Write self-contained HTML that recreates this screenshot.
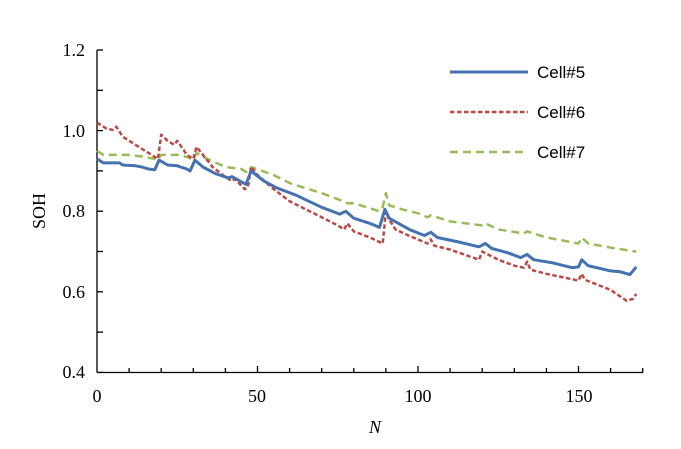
<!DOCTYPE html>
<html><head><meta charset="utf-8"><style>
body{margin:0;background:#fff}
svg{display:block}
text{font-family:"Liberation Serif",serif;font-size:18px;fill:#000}
.lg{font-family:"Liberation Sans",sans-serif;font-size:17px}
</style></head><body>
<svg id="s" width="681" height="449" xmlns="http://www.w3.org/2000/svg">
<g id="ax" stroke="#000" stroke-width="1.3"></g>
<text x="85" y="56" text-anchor="end">1.2</text>
<text x="85" y="137" text-anchor="end">1.0</text>
<text x="85" y="217" text-anchor="end">0.8</text>
<text x="85" y="298" text-anchor="end">0.6</text>
<text x="85" y="378" text-anchor="end">0.4</text>
<text x="97" y="402" text-anchor="middle">0</text>
<text x="257" y="402" text-anchor="middle">50</text>
<text x="418" y="402" text-anchor="middle">100</text>
<text x="579" y="402" text-anchor="middle">150</text>
<text x="375" y="433" text-anchor="middle" font-style="italic">N</text>
<text transform="translate(45,211) rotate(-90)" text-anchor="middle">SOH</text>
<g id="series" fill="none" stroke-linejoin="round"></g>
<line x1="450" y1="72" x2="528" y2="72" stroke="#4472b0" stroke-width="3"/>
<line x1="450" y1="112" x2="528" y2="112" stroke="#b94a48" stroke-width="2.5" stroke-dasharray="4.5,2.5"/>
<line x1="450" y1="152" x2="528" y2="152" stroke="#9bbb59" stroke-width="2.5" stroke-dasharray="8,5"/>
<text class="lg" x="537" y="78">Cell#5</text>
<text class="lg" x="537" y="118">Cell#6</text>
<text class="lg" x="537" y="158">Cell#7</text>
</svg>
<script>
var X=n=>97+3.21*n, Y=v=>130.7+(1-v)*403;
var ax=document.getElementById('ax'),h='';
h+='<line x1="97" y1="50" x2="97" y2="372.5"/><line x1="97" y1="372.5" x2="643" y2="372.5"/>';
for(var i=0;i<=8;i++){var y=50+i*40.3;h+='<line x1="97" y1="'+y+'" x2="103" y2="'+y+'"/>';}
for(var i=1;i<=17;i++){var x=X(i*10);h+='<line x1="'+x+'" y1="372.5" x2="'+x+'" y2="'+(i%5==0?366:368)+'"/>';}
ax.innerHTML=h;
var B=[[0,.93],[2,.92],[7,.92],[8,.915],[12,.913],[14,.91],[16,.905],[18,.903],[19.3,.927],[22,.915],[25,.913],[26,.91],[28,.905],[29,.9],[30.5,.927],[33,.91],[37,.893],[41,.883],[42,.886],[46.4,.867],[48,.9],[52,.875],[56,.858],[62,.84],[70,.81],[75.6,.793],[77.5,.8],[80,.783],[85,.77],[88,.76],[89.7,.805],[91,.783],[97.5,.754],[102,.74],[104,.748],[106,.735],[112,.725],[119,.712],[121,.72],[123,.708],[128,.697],[132,.685],[134,.693],[136,.68],[142,.672],[148,.66],[150,.662],[151,.68],[153,.665],[160,.652],[163,.65],[166,.643],[168,.662]];
var R=[[0,1.02],[3,1.005],[5,1.002],[6,1.01],[8,.985],[12,.965],[17,.94],[19,.93],[20,.99],[22,.975],[24,.965],[25,.975],[28,.94],[30,.93],[31,.96],[32,.95],[36,.91],[40,.885],[42,.875],[43,.88],[46,.855],[47,.86],[48,.91],[50,.89],[55,.855],[60,.825],[65,.805],[70,.785],[75,.765],[77,.755],[78,.77],[80,.75],[85,.735],[89,.72],[90,.8],[91,.78],[93,.755],[97,.74],[103,.72],[104,.73],[105,.715],[110,.705],[119,.68],[120,.7],[125,.68],[130,.665],[133,.66],[134,.675],[135,.655],[140,.645],[150,.628],[151,.645],[152,.63],[160,.605],[165,.578],[167,.583],[168,.595]];
var G=[[0,.95],[2,.94],[10,.94],[15,.935],[19,.928],[20,.94],[25,.94],[28,.935],[30,.928],[31,.945],[33,.935],[40,.91],[45,.905],[47,.895],[48,.91],[55,.89],[60,.87],[70,.845],[75,.83],[78,.82],[80,.82],[88,.8],[89,.81],[90,.845],[91,.815],[95,.805],[100,.795],[103,.785],[104,.79],[110,.775],[120,.765],[121,.77],[125,.755],[133,.745],[134,.75],[140,.735],[150,.72],[151,.735],[153,.72],[160,.71],[168,.7]];
function P(d){return d.map(p=>X(p[0]).toFixed(1)+','+Y(p[1]).toFixed(1)).join(' ');}
document.getElementById('series').innerHTML=
'<polyline points="'+P(G)+'" stroke="#9bbb59" stroke-width="2.5" stroke-dasharray="8,5"/>'+
'<polyline points="'+P(R)+'" stroke="#b94a48" stroke-width="2.5" stroke-dasharray="4.5,2.5"/>'+
'<polyline points="'+P(B)+'" stroke="#4472b0" stroke-width="3"/>';
</script>
</body></html>
